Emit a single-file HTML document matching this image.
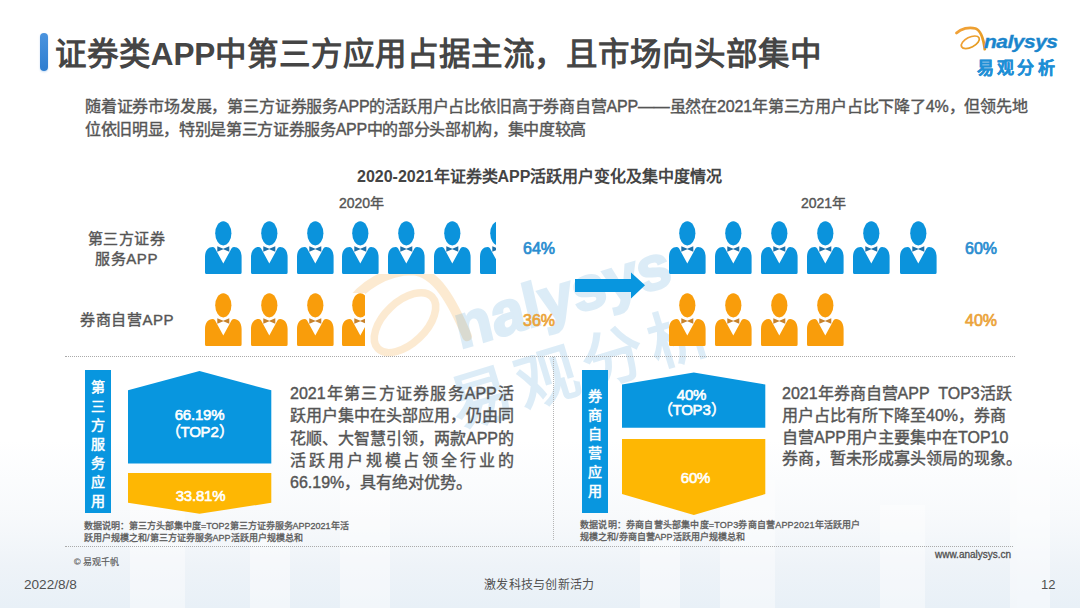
<!DOCTYPE html>
<html lang="zh-CN">
<head>
<meta charset="utf-8">
<style>
*{margin:0;padding:0;box-sizing:border-box}
html,body{width:1080px;height:608px;overflow:hidden;background:#fff}
body{position:relative;font-family:"Liberation Sans",sans-serif;color:#505050}
.a{position:absolute;white-space:nowrap}
.b{font-weight:bold}
#bar{left:39.5px;top:33px;width:8.3px;height:37.5px;border-radius:4.2px;background:linear-gradient(#4a93de,#2d7dd0);box-shadow:0 1px 2px rgba(40,120,210,0.25)}
#title{left:55px;top:32px;letter-spacing:-0.08px;font-size:31.5px;font-weight:bold;color:#454545;line-height:44px}
#para{left:85px;top:95px;font-size:16px;font-weight:normal;-webkit-text-stroke:0.4px #555;color:#555;line-height:23px}
#ctitle{left:357px;top:166px;font-size:16px;font-weight:bold;color:#444;line-height:22px}
.yr{font-size:14px;color:#555;line-height:18px;font-weight:normal;-webkit-text-stroke:0.4px #555}
.lab{font-size:15px;letter-spacing:0.6px;font-weight:normal;-webkit-text-stroke:0.4px #555;color:#555;line-height:19.5px;text-align:center}
.pct{font-size:16px;font-weight:normal;-webkit-text-stroke:0.7px currentColor;line-height:20px;margin-top:2px}
.blue{color:#2a8dd0}
.org{color:#eba43a}
.ib{color:#0b93dc;--bt:#1f70a8}
.io{color:#f99d0b;--bt:#c8822a}
.row{position:absolute;height:53px;overflow:hidden;background:#fff}
.row svg{position:absolute;top:0}
.vlab{position:absolute;background:#0896df;color:#fff;font-weight:normal;-webkit-text-stroke:0.5px #fff;font-size:14px;line-height:19px;text-align:center}
.shape{position:absolute}
.stxt{position:absolute;color:#fff;font-weight:normal;-webkit-text-stroke:0.6px #fff;font-size:15px;text-align:center;line-height:16px;letter-spacing:-0.2px}
.body{font-size:16px;font-weight:normal;-webkit-text-stroke:0.4px #555;color:#555;line-height:22.3px}
.body div{text-align:justify;text-align-last:justify;white-space:nowrap;height:22.3px}
.note{font-size:9px;font-weight:normal;-webkit-text-stroke:0.3px #5a5a5a;color:#5a5a5a;line-height:12.7px}
.dot{position:absolute;height:0;border-top:1px dotted #aaaaaa}
.foot{font-size:13px;color:#505050;line-height:16px}
</style>
</head>
<body>

<svg class="a" style="left:0;top:0" width="1080" height="608">
<defs>
<linearGradient id="bb" x1="0" y1="0" x2="1" y2="0"><stop offset="0" stop-color="#e9f1f8"/><stop offset="0.5" stop-color="#eef4f9"/><stop offset="1" stop-color="#e7f0f7"/></linearGradient>
<linearGradient id="sky" x1="0" y1="0" x2="0" y2="1"><stop offset="0" stop-color="#f4f7fa" stop-opacity="0"/><stop offset="0.45" stop-color="#f4f7fa" stop-opacity="0.7"/><stop offset="0.75" stop-color="#eef3f8"/><stop offset="1" stop-color="#e8f0f7"/></linearGradient>
</defs>
<rect x="0" y="440" width="1080" height="168" fill="url(#sky)"/>
<g fill="#ffffff" opacity="0.45">
<rect x="130" y="500" width="55" height="108"/>
<rect x="250" y="520" width="40" height="88"/>
<rect x="340" y="490" width="50" height="118"/>
<rect x="640" y="500" width="40" height="108"/>
<rect x="720" y="480" width="55" height="128"/>
<rect x="880" y="505" width="45" height="103"/>
<rect x="1010" y="470" width="40" height="138"/>
</g>
<g transform="translate(487,398) rotate(-15.6) scale(3.74) translate(-985.5,-66.5)">
<g opacity="0.2">
<path d="M956.5,33 C961,28.5 969,26.5 975.5,28.3 C981.5,30.5 983.5,39 984.8,49.2" fill="none" stroke="#f39a1e" stroke-width="2.6" stroke-linecap="round"/>
<ellipse cx="969.8" cy="41.2" rx="10" ry="5.6" transform="rotate(-28 969.8 41.2)" fill="none" stroke="#f39a1e" stroke-width="2"/>
</g>
<g opacity="0.15" fill="#1a85cc">
</g>
</g>
<text x="0" y="0" transform="translate(458,428) rotate(-17) " opacity="0.15" fill="#1a85cc" font-family="Liberation Sans" font-weight="bold" font-size="62" letter-spacing="7">易观分析</text>
<text x="0" y="0" transform="translate(460,349) rotate(-17) skewX(-4)" opacity="0.15" fill="#1a85cc" stroke="#1a85cc" stroke-width="2.5" font-family="Liberation Sans" font-weight="bold" font-size="61" letter-spacing="0">nalysys</text>
</svg>
<svg width="0" height="0" style="position:absolute">
<defs>
<symbol id="man" viewBox="0 0 37 53">
<ellipse cx="18.3" cy="12.3" rx="8.1" ry="12.1" fill="currentColor"/>
<path d="M1.5,53 Q0,53 0,51.5 L0,36 C0,29.5 3.5,26 7.5,26 C8.5,26 9.3,26.5 10,27.2 L18.3,42.6 L26.6,27.2 C27.3,26.5 28.1,26 29.1,26 C33.1,26 36.6,29.5 36.6,36 L36.6,51.5 Q36.6,53 35.1,53 Z" fill="currentColor"/>
<path d="M12.3,25.3 L18.3,27.8 L24.3,25.3 L24.3,30.7 L18.3,28.3 L12.3,30.7 Z" fill="var(--bt)"/>
</symbol>
</defs>
</svg>


<svg class="a" style="left:950px;top:20px" width="115" height="60" viewBox="950 20 115 60">
<defs><linearGradient id="lg" x1="0" y1="0" x2="1" y2="1"><stop offset="0" stop-color="#f2a23a"/><stop offset="1" stop-color="#e39a1c"/></linearGradient></defs>
<path d="M956.5,33 C961,28.5 969,26.8 975.5,28.5 C981.5,30.7 983.5,39 984.8,49.2" fill="none" stroke="url(#lg)" stroke-width="2.8" stroke-linecap="round"/>
<ellipse cx="970.3" cy="42.3" rx="9.8" ry="5" transform="rotate(-27 970.3 42.3)" fill="none" stroke="url(#lg)" stroke-width="1.7"/>
<text x="984" y="48.3" transform="translate(0,4.8) scale(1,0.9)" font-family="Liberation Sans" font-weight="bold" font-style="italic" font-size="21" fill="#1a85cc" stroke="#1a85cc" stroke-width="0.4" letter-spacing="-0.5">nalysys</text>
<text x="977" y="73.5" font-family="Liberation Sans" font-weight="bold" font-size="17" fill="#1f8fd6" stroke="#1f8fd6" stroke-width="0.3" letter-spacing="3.2">易观分析</text>
</svg>
<div id="bar" class="a"></div>
<div id="title" class="a">证券类APP中第三方应用占据主流，且市场向头部集中</div>

<div id="para" class="a"><span style="letter-spacing:-0.19px">随着证券市场发展，第三方证券服务APP的活跃用户占比依旧高于券商自营APP——虽然在2021年第三方用户占比下降了4%，但领先地</span><br><span style="letter-spacing:-0.33px">位依旧明显，特别是第三方证券服务APP中的部分头部机构，集中度较高</span></div>

<div id="ctitle" class="a">2020-2021年证券类APP活跃用户变化及集中度情况</div>
<div class="a yr" style="left:339px;top:194px">2020年</div>
<div class="a yr" style="left:801px;top:194px">2021年</div>

<div class="a lab" style="left:80px;top:229px;width:93px">第三方证券<br>服务APP</div>
<div class="a lab" style="left:80px;top:310px;width:93px">券商自营APP</div>

<div class="row ib" style="left:205px;top:221px;width:290.50px"><svg width="37" height="53" style="left:0.00px"><use href="#man"/></svg><svg width="37" height="53" style="left:45.75px"><use href="#man"/></svg><svg width="37" height="53" style="left:91.50px"><use href="#man"/></svg><svg width="37" height="53" style="left:137.25px"><use href="#man"/></svg><svg width="37" height="53" style="left:183.00px"><use href="#man"/></svg><svg width="37" height="53" style="left:228.75px"><use href="#man"/></svg><svg width="37" height="53" style="left:274.50px"><use href="#man"/></svg></div>
<div class="row io" style="left:205px;top:292.5px;width:160.25px"><svg width="37" height="53" style="left:0.00px"><use href="#man"/></svg><svg width="37" height="53" style="left:45.75px"><use href="#man"/></svg><svg width="37" height="53" style="left:91.50px"><use href="#man"/></svg><svg width="37" height="53" style="left:137.25px"><use href="#man"/></svg></div>
<div class="row ib" style="left:669px;top:221px;width:267.50px"><svg width="37" height="53" style="left:0.00px"><use href="#man"/></svg><svg width="37" height="53" style="left:46.10px"><use href="#man"/></svg><svg width="37" height="53" style="left:92.20px"><use href="#man"/></svg><svg width="37" height="53" style="left:138.30px"><use href="#man"/></svg><svg width="37" height="53" style="left:184.40px"><use href="#man"/></svg><svg width="37" height="53" style="left:230.50px"><use href="#man"/></svg></div>
<div class="row io" style="left:669px;top:292.5px;width:175.30px"><svg width="37" height="53" style="left:0.00px"><use href="#man"/></svg><svg width="37" height="53" style="left:46.10px"><use href="#man"/></svg><svg width="37" height="53" style="left:92.20px"><use href="#man"/></svg><svg width="37" height="53" style="left:138.30px"><use href="#man"/></svg></div>

<div class="a pct blue" style="left:523px;top:237px">64%</div>
<div class="a pct org" style="left:523px;top:309px">36%</div>
<div class="a pct blue" style="left:965px;top:237px">60%</div>
<div class="a pct org" style="left:965px;top:309px">40%</div>

<svg class="a" style="left:575px;top:272px" width="70" height="27"><path d="M0,7 L56,7 L56,0.5 L70,13.3 L56,26.5 L56,20 L0,20 Z" fill="#0896df"/></svg>

<div class="dot" style="left:65px;top:356px;width:950px"></div>
<div class="dot" style="left:65px;top:546px;width:948px"></div>
<div class="a" style="left:553px;top:357px;width:0;height:183px;border-left:1px dotted #b5b5b5"></div>

<div class="vlab" style="left:85px;top:370px;width:26px;height:142.5px;padding-top:8px">第<br>三<br>方<br>服<br>务<br>应<br>用</div>
<svg class="shape" style="left:127.5px;top:371px" width="144" height="144">
<path d="M0,19.3 L71.5,0 L143.3,19.3 L143.3,92.5 L0,92.5 Z" fill="#0896df"/>
<path d="M0,102 L143.3,102 L143.3,131.8 L71.5,142.7 L0,131.8 Z" fill="#feb703"/>
</svg>
<div class="stxt" style="left:128px;top:407px;width:143px;line-height:16.5px">66.19%<br>（TOP2）</div>
<div class="stxt" style="left:129px;top:488px;width:143px">33.81%</div>

<div class="a body" style="left:290px;top:383px;width:224px;white-space:normal">
<div>2021年第三方证券服务APP活</div>
<div>跃用户集中在头部应用，仍由同</div>
<div>花顺、大智慧引领，两款APP的</div>
<div>活跃用户规模占领全行业的</div>
<div style="text-align-last:left">66.19%，具有绝对优势。</div>
</div>

<div class="a note" style="left:84px;top:519.5px">数据说明：第三方头部集中度=TOP2第三方证券服务APP2021年活<br>跃用户规模之和/第三方证券服务APP活跃用户规模总和</div>
<div class="a foot" style="left:74px;top:554px;font-size:9px;line-height:16px;color:#5a5a5a;-webkit-text-stroke:0.15px #5a5a5a">© 易观千帆</div>

<div class="vlab" style="left:581.5px;top:370px;width:26px;height:143px;padding-top:17px">券<br>商<br>自<br>营<br>应<br>用</div>
<svg class="shape" style="left:621.5px;top:372px" width="144" height="144">
<path d="M0,12.5 L71.8,0.5 L143.3,12.5 L143.3,55.7 L0,55.7 Z" fill="#0896df"/>
<path d="M0,67 L143.3,67 L143.3,122 L71.8,143 L0,122 Z" fill="#feb703"/>
</svg>
<div class="stxt" style="left:620px;top:387px;width:143px;line-height:15px">40%<br>（TOP3）</div>
<div class="stxt" style="left:624px;top:470px;width:143px">60%</div>

<div class="a body" style="left:782px;top:383px;line-height:21.8px">2021年券商自营APP&nbsp; TOP3活跃<br>用户占比有所下降至40%，券商<br>自营APP用户主要集中在TOP10<br>券商，暂未形成寡头领局的现象。</div>

<div class="a note" style="left:580px;top:518.5px"><span style="letter-spacing:0.2px">数据说明：券商自营头部集中度=TOP3券商自营APP2021年活跃用户</span><br>规模之和/券商自营APP活跃用户规模总和</div>

<div class="a foot" style="left:935px;top:547px;font-size:10px;-webkit-text-stroke:0.3px #505050">www.analysys.cn</div>
<div class="a foot" style="left:24px;top:577px;font-size:13.6px">2022/8/8</div>
<div class="a foot" style="left:484px;top:577px;font-size:12px;letter-spacing:0.3px">激发科技与创新活力</div>
<div class="a foot" style="left:1041px;top:577px">12</div>
</body>
</html>
